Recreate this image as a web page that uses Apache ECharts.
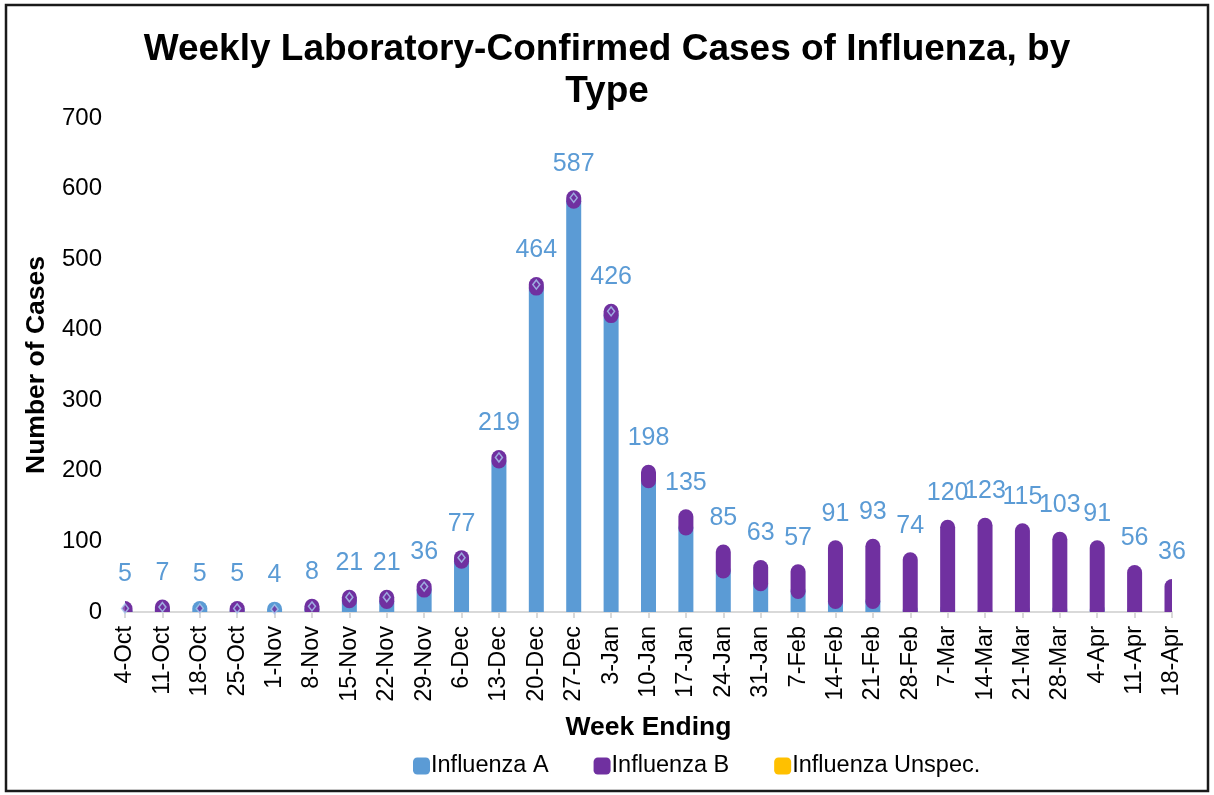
<!DOCTYPE html>
<html>
<head>
<meta charset="utf-8">
<title>Weekly Laboratory-Confirmed Cases of Influenza, by Type</title>
<script src="https://cdn.jsdelivr.net/npm/echarts@6/dist/echarts.min.js"></script>
<style>
  html, body { margin: 0; padding: 0; background: #fff; }
  #chart { width: 1214px; height: 795px; }
</style>
</head>
<body>
<div id="chart"></div>
<script>
// Week ending dates and case counts by type
const weeks = ['4-Oct', '11-Oct', '18-Oct', '25-Oct', '1-Nov', '8-Nov', '15-Nov', '22-Nov', '29-Nov',
  '6-Dec', '13-Dec', '20-Dec', '27-Dec', '3-Jan', '10-Jan', '17-Jan', '24-Jan', '31-Jan',
  '7-Feb', '14-Feb', '21-Feb', '28-Feb', '7-Mar', '14-Mar', '21-Mar', '28-Mar', '4-Apr', '11-Apr', '18-Apr'];
const fluA = [1, 2, 5, 2, 4, 4, 16, 15, 31, 72, 214, 459, 582, 420, 186, 119, 58, 40,
  29, 15, 15, 2, 3, 1, 2, 2, 3, 1, 0];
const fluB = [4, 5, 0, 3, 0, 4, 5, 6, 5, 5, 5, 5, 5, 6, 12, 16, 27, 23,
  28, 76, 78, 72, 117, 122, 113, 101, 88, 55, 36];
const fluUnspec = [0, 0, 0, 0, 0, 0, 0, 0, 0, 0, 0, 0, 0, 0, 0, 0, 0, 0,
  0, 0, 0, 0, 0, 0, 0, 0, 0, 0, 0];
const yTicks = [0, 100, 200, 300, 400, 500, 600, 700];
// weeks that carry the small diamond marker on top
const diamondWeeks = 14;

const COLORS = { A: '#5B9BD5', B: '#7030A0', U: '#FFC000' };
const FONT = '"Liberation Sans", Arial, sans-serif';
const BAR_W = 15;

const totals = weeks.map((w, i) => fluA[i] + fluB[i] + fluUnspec[i]);

// each segment is a thick line with round caps, like the original
function segment(color) {
  return function (params, api) {
    const lo = api.value(1), hi = api.value(2);
    if (hi - lo <= 0) return null;
    const p0 = api.coord([api.value(0), lo]);
    const p1 = api.coord([api.value(0), hi]);
    return {
      type: 'line',
      shape: { x1: p0[0], y1: p0[1], x2: p1[0], y2: p1[1] },
      style: { stroke: color, lineWidth: BAR_W, lineCap: 'round' }
    };
  };
}

const dataA = weeks.map((w, i) => [i, 0, fluA[i]]);
const dataB = weeks.map((w, i) => [i, fluA[i], fluA[i] + fluB[i]]);
const dataU = weeks.map((w, i) => [i, fluA[i] + fluB[i], totals[i]]);
const dataDiamond = weeks.map((w, i) => (i < diamondWeeks ? [i, totals[i]] : [i, null]));
const dataLabel = weeks.map((w, i) => [i, totals[i]]);

const chart = echarts.init(document.getElementById('chart'));
chart.setOption({
  animation: false,
  textStyle: { fontFamily: FONT },
  title: {
    text: 'Weekly Laboratory-Confirmed Cases of Influenza, by\nType',
    left: 'center',
    top: 24,
    textStyle: { fontSize: 37, fontWeight: 'bold', color: '#000', lineHeight: 42, fontFamily: FONT }
  },
  graphic: [{
    type: 'rect',
    shape: { x: 6, y: 5, width: 1202, height: 786 },
    style: { fill: 'none', stroke: '#1a1a1a', lineWidth: 2.5 },
    silent: true
  }],
  legend: {
    data: ['Influenza A', 'Influenza B', 'Influenza Unspec.'],
    left: 408,
    top: 749,
    icon: 'roundRect',
    itemWidth: 17,
    itemHeight: 17,
    itemGap: 45,
    textStyle: { fontSize: 23.5, color: '#000', padding: [0, 0, 0, -4], fontFamily: FONT }
  },
  grid: { left: 125, right: 42, top: 118, bottom: 183 },
  xAxis: {
    type: 'category',
    data: weeks,
    boundaryGap: false,
    name: 'Week Ending',
    nameLocation: 'middle',
    nameGap: 102,
    nameTextStyle: { fontSize: 26.5, fontWeight: 'bold', color: '#000', fontFamily: FONT },
    axisLine: { lineStyle: { color: '#D9D9D9', width: 2 } },
    axisTick: { lineStyle: { color: '#D9D9D9', width: 2 }, length: 6 },
    axisLabel: { rotate: 90, fontSize: 23.5, color: '#000', margin: 14, interval: 0, fontFamily: FONT }
  },
  yAxis: {
    type: 'value',
    min: yTicks[0],
    max: yTicks[yTicks.length - 1],
    interval: 100,
    name: 'Number of Cases',
    nameLocation: 'middle',
    nameRotate: 90,
    nameGap: 75,
    nameTextStyle: { fontSize: 26.5, fontWeight: 'bold', color: '#000', fontFamily: FONT },
    axisLine: { show: false },
    axisTick: { show: false },
    splitLine: { show: false },
    axisLabel: { fontSize: 24, color: '#000', margin: 23, fontFamily: FONT }
  },
  series: [
    {
      name: 'Influenza A', type: 'custom', renderItem: segment(COLORS.A),
      itemStyle: { color: COLORS.A }, encode: { x: 0, y: [1, 2] }, data: dataA, clip: true
    },
    {
      name: 'Influenza B', type: 'custom', renderItem: segment(COLORS.B),
      itemStyle: { color: COLORS.B }, encode: { x: 0, y: [1, 2] }, data: dataB, clip: true
    },
    {
      name: 'Influenza Unspec.', type: 'custom', renderItem: segment(COLORS.U),
      itemStyle: { color: COLORS.U }, encode: { x: 0, y: [1, 2] }, data: dataU, clip: true
    },
    {
      name: 'marker', type: 'scatter', symbol: 'diamond', symbolSize: [7, 9],
      itemStyle: { color: '#7030A0', borderColor: '#A9CBEF', borderWidth: 1.5 },
      data: dataDiamond, z: 5, silent: true
    },
    {
      name: 'total', type: 'custom', z: 6, silent: true,
      encode: { x: 0, y: 1 },
      data: dataLabel,
      renderItem: function (params, api) {
        const p = api.coord([api.value(0), api.value(1)]);
        return {
          type: 'text',
          x: p[0], y: p[1] - 34,
          style: {
            text: String(api.value(1)), fill: COLORS.A, fontSize: 25, fontFamily: FONT,
            align: 'center', verticalAlign: 'middle'
          }
        };
      }
    }
  ]
});
</script>
</body>
</html>
